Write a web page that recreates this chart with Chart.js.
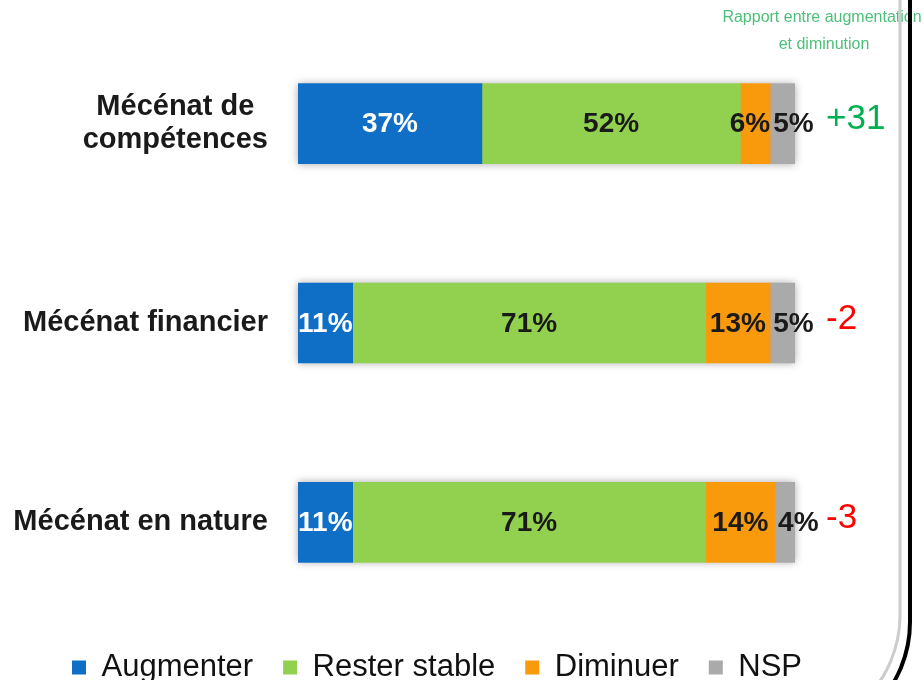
<!DOCTYPE html>
<html>
<head>
<meta charset="utf-8">
<script src="https://cdn.jsdelivr.net/npm/chart.js@4.4.1/dist/chart.umd.min.js"></script>
<style>
  html, body { margin: 0; padding: 0; background: #fff; overflow: hidden; }
  #wrap { width: 924px; height: 680px; overflow: hidden; }
</style>
</head>
<body>
<div id="wrap"><canvas id="chart" width="924" height="693"></canvas></div>
<script>
// data
const categories = [['Mécénat de', 'compétences'], ['Mécénat financier'], ['Mécénat en nature']];
const seriesNames = ['Augmenter', 'Rester stable', 'Diminuer', 'NSP'];
const augmenter = [37, 11, 11];
const resterStable = [52, 71, 71];
const diminuer = [6, 13, 14];
const nsp = [5, 5, 4];
const balanceLabels = ['+31', '-2', '-3'];
const headerLines = ['Rapport entre augmentation', 'et diminution'];

const FONT = '"Liberation Sans", Arial, sans-serif';
const colors = ['#0f6fc6', '#92d050', '#f99a0c', '#aaaaaa'];
const balanceColors = ['#00b050', '#ff0000', '#ff0000'];
const seriesData = [augmenter, resterStable, diminuer, nsp];

// soft shadow behind each full bar
const barShadow = {
    id: 'barShadow',
    beforeDatasetsDraw(chart) {
        const ctx = chart.ctx;
        const first = chart.getDatasetMeta(0);
        const last = chart.getDatasetMeta(chart.data.datasets.length - 1);
        ctx.save();
        ctx.shadowColor = 'rgba(0,0,0,0.35)';
        ctx.shadowBlur = 8;
        ctx.fillStyle = '#fff';
        first.data.forEach((bar, j) => {
            const end = last.data[j];
            ctx.fillRect(bar.base, bar.y - bar.height / 2, end.x - bar.base, bar.height);
        });
        ctx.restore();
    }
};

// percentages inside the segments
const valueLabels = {
    id: 'valueLabels',
    afterDatasetsDraw(chart) {
        const ctx = chart.ctx;
        const lastIdx = chart.data.datasets.length - 1;
        ctx.save();
        ctx.font = 'bold 28px ' + FONT;
        ctx.textBaseline = 'middle';
        chart.data.datasets.forEach((ds, i) => {
            chart.getDatasetMeta(i).data.forEach((bar, j) => {
                const txt = ds.data[j] + '%';
                const left = Math.min(bar.x, bar.base);
                const right = Math.max(bar.x, bar.base);
                const w = ctx.measureText(txt).width;
                ctx.fillStyle = i === 0 ? '#ffffff' : '#1a1a1a';
                if (w <= right - left + 1) {
                    ctx.textAlign = 'center';
                    ctx.fillText(txt, (left + right) / 2, bar.y + 1);
                } else if (i === lastIdx) {
                    ctx.textAlign = 'left';
                    ctx.fillText(txt, left + 3, bar.y + 1);
                } else {
                    ctx.textAlign = 'right';
                    ctx.fillText(txt, right, bar.y + 1);
                }
            });
        });
        ctx.restore();
    }
};

// category names on the left, balance numbers on the right
const sideLabels = {
    id: 'sideLabels',
    afterDraw(chart) {
        const ctx = chart.ctx;
        const yScale = chart.scales.y;
        const rightEdge = yScale.right - 30;
        ctx.save();
        ctx.font = 'bold 29px ' + FONT;
        ctx.fillStyle = '#1a1a1a';
        ctx.textAlign = 'center';
        ctx.textBaseline = 'middle';
        categories.forEach((lines, i) => {
            const cy = yScale.getPixelForValue(i);
            const maxW = Math.max(...lines.map(l => ctx.measureText(l).width));
            const cx = rightEdge - maxW / 2;
            lines.forEach((l, k) => {
                ctx.fillText(l, cx, cy + (k - (lines.length - 1) / 2) * 33);
            });
        });

        ctx.font = '35px ' + FONT;
        ctx.textAlign = 'left';
        balanceLabels.forEach((t, i) => {
            ctx.fillStyle = balanceColors[i];
            ctx.fillText(t, chart.chartArea.right + 31, yScale.getPixelForValue(i) - 4);
        });
        ctx.restore();
    }
};

// small header on the right and the frame lines
const decoration = {
    id: 'decoration',
    afterDraw(chart) {
        const ctx = chart.ctx;
        ctx.save();
        ctx.font = '16px ' + FONT;
        ctx.fillStyle = '#4cbf7a';
        ctx.textAlign = 'center';
        ctx.textBaseline = 'middle';
        ctx.fillText(headerLines[0], 822, 18);
        ctx.fillText(headerLines[1], 824, 45);

        ctx.lineWidth = 3;
        ctx.strokeStyle = '#cccccc';
        ctx.beginPath();
        ctx.moveTo(900, 0);
        ctx.lineTo(900, 615);
        ctx.arc(780, 615, 120, 0, Math.PI / 4);
        ctx.stroke();

        ctx.lineWidth = 4;
        ctx.strokeStyle = '#000000';
        ctx.beginPath();
        ctx.moveTo(910, 0);
        ctx.lineTo(910, 622);
        ctx.arc(790, 622, 120, 0, Math.PI / 4);
        ctx.stroke();
        ctx.restore();
    }
};

new Chart(document.getElementById('chart'), {
    type: 'bar',
    data: {
        labels: categories,
        datasets: seriesNames.map((name, i) => ({
            label: name,
            data: seriesData[i],
            backgroundColor: colors[i],
            borderWidth: 0,
            barThickness: 80
        }))
    },
    options: {
        indexAxis: 'y',
        responsive: false,
        animation: false,
        layout: { padding: { top: 24, right: 50, left: 0, bottom: 0 } },
        scales: {
            x: { stacked: true, min: 0, max: 100, display: false },
            y: {
                stacked: true,
                grid: { display: false },
                border: { display: false },
                ticks: { display: false },
                afterFit(scale) { scale.width = 298; }
            },
            // empty axis that keeps room for the balance numbers
            y2: {
                type: 'category',
                labels: balanceLabels,
                position: 'right',
                offset: true,
                grid: { display: false },
                border: { display: false },
                ticks: { display: false },
                afterFit(scale) { scale.width = 79; }
            }
        },
        plugins: {
            legend: {
                position: 'bottom',
                labels: {
                    boxWidth: 14,
                    boxHeight: 14,
                    padding: 30,
                    color: '#111111',
                    font: { size: 31, lineHeight: 1, family: FONT }
                }
            },
            tooltip: { enabled: false }
        }
    },
    plugins: [barShadow, valueLabels, sideLabels, decoration]
});
</script>
</body>
</html>
